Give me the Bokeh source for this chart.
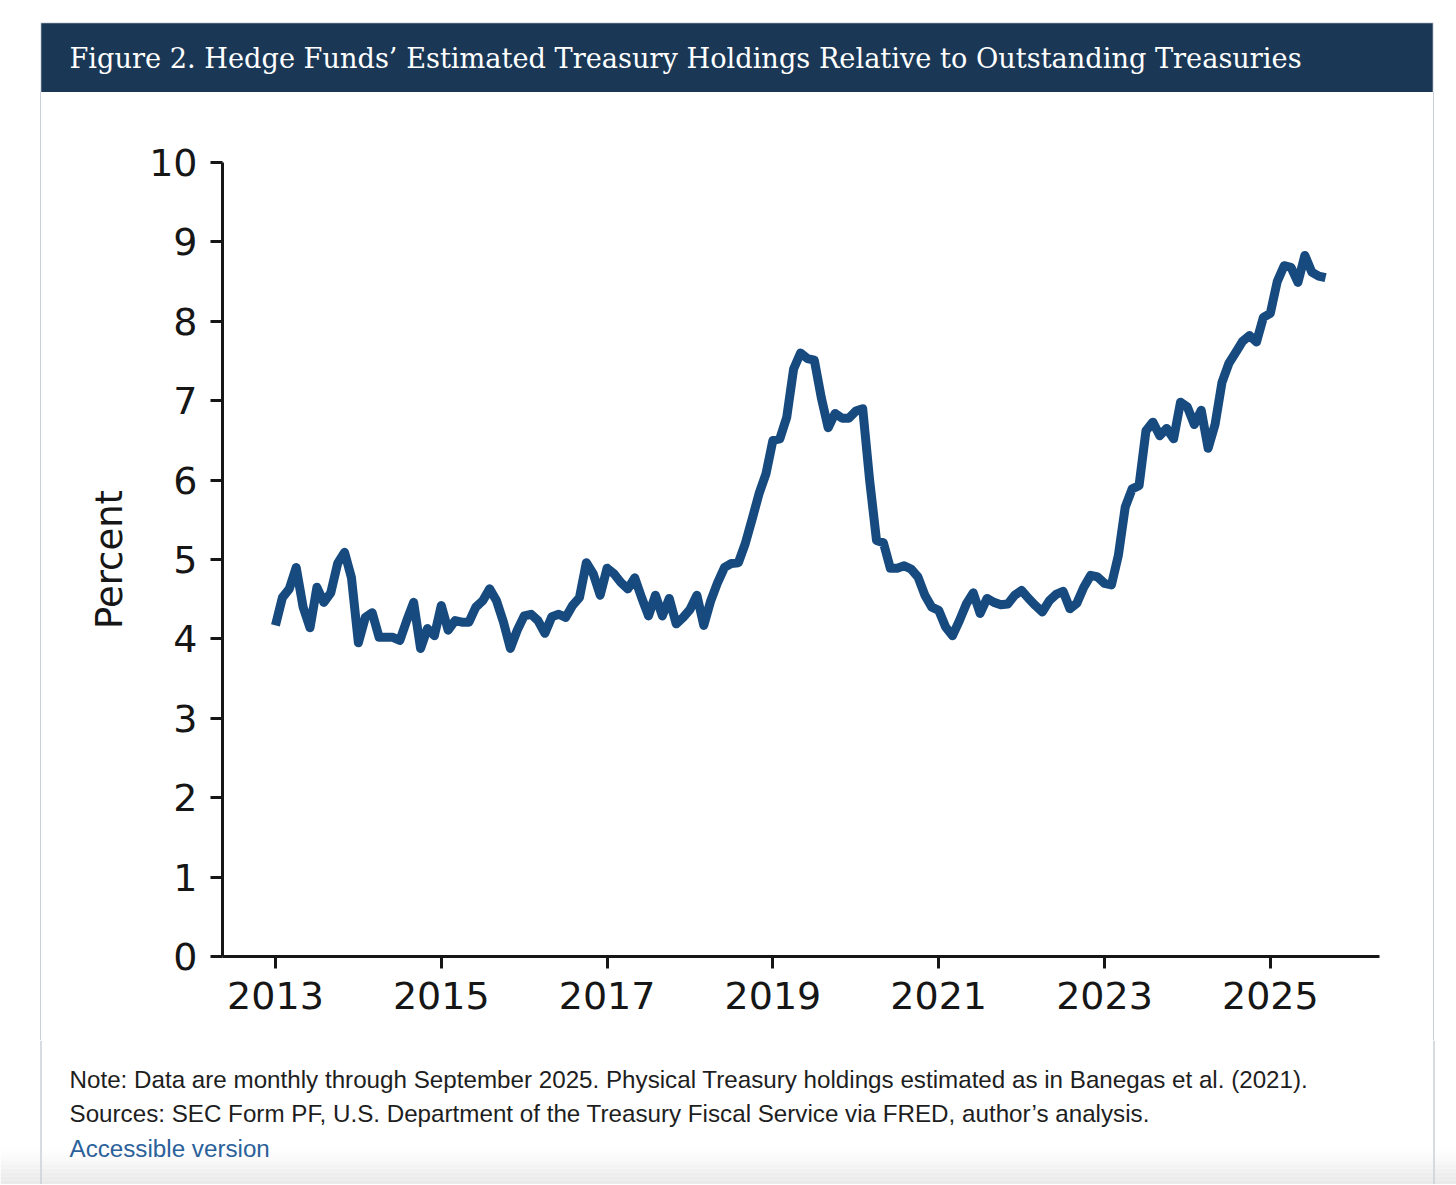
from bokeh.plotting import figure
from bokeh.layouts import column, row
from bokeh.models import Range1d, FixedTicker, Div
from bokeh.embed import file_html
from bokeh.resources import INLINE
from bokeh.core.properties import value

# ---------------- data (monthly, percent) ----------------
v2013 = [4.17, 4.52, 4.63, 4.90, 4.40, 4.14, 4.65, 4.46, 4.58, 4.95, 5.09, 4.77]
v2014 = [3.95, 4.27, 4.33, 4.02, 4.02, 4.02, 3.98, 4.23, 4.46, 3.88, 4.13, 4.04]
v2015 = [4.42, 4.11, 4.23, 4.21, 4.21, 4.40, 4.48, 4.63, 4.48, 4.21, 3.88, 4.11]
v2016 = [4.29, 4.31, 4.23, 4.07, 4.28, 4.31, 4.27, 4.42, 4.52, 4.96, 4.82, 4.55]
v2017 = [4.89, 4.82, 4.71, 4.63, 4.77, 4.52, 4.29, 4.55, 4.29, 4.51, 4.19, 4.27]
v2018 = [4.37, 4.55, 4.17, 4.48, 4.71, 4.90, 4.95, 4.96, 5.20, 5.51, 5.83, 6.08]
v2019 = [6.50, 6.52, 6.79, 7.40, 7.60, 7.53, 7.51, 7.04, 6.66, 6.84, 6.78, 6.78]
v2020 = [6.87, 6.90, 6.00, 5.24, 5.21, 4.89, 4.89, 4.92, 4.88, 4.78, 4.55, 4.40]
v2021 = [4.36, 4.15, 4.04, 4.23, 4.44, 4.58, 4.32, 4.51, 4.46, 4.43, 4.44, 4.55]
v2022 = [4.61, 4.51, 4.42, 4.34, 4.48, 4.56, 4.60, 4.38, 4.45, 4.65, 4.80, 4.78]
v2023 = [4.70, 4.68, 5.05, 5.66, 5.89, 5.93, 6.62, 6.73, 6.56, 6.65, 6.52, 6.98]
v2024 = [6.92, 6.70, 6.88, 6.40, 6.70, 7.23, 7.47, 7.61, 7.75, 7.82, 7.74, 8.05]
v2025 = [8.10, 8.50, 8.70, 8.68, 8.49, 8.83, 8.62, 8.57, 8.55]

years = [2013, 2014, 2015, 2016, 2017, 2018, 2019, 2020, 2021, 2022, 2023, 2024, 2025]
yearly = [v2013, v2014, v2015, v2016, v2017, v2018, v2019, v2020, v2021, v2022, v2023, v2024, v2025]

x_ticks = [2013, 2015, 2017, 2019, 2021, 2023, 2025]
y_ticks = [0, 1, 2, 3, 4, 5, 6, 7, 8, 9, 10]

title_text = "Figure 2. Hedge Funds\u2019 Estimated Treasury Holdings Relative to Outstanding Treasuries"
note_text = "Note: Data are monthly through September 2025. Physical Treasury holdings estimated as in Banegas et al. (2021)."
source_text = "Sources: SEC Form PF, U.S. Department of the Treasury Fiscal Service via FRED, author\u2019s analysis."
link_text = "Accessible version"

dates, pct = [], []
for yr, vals in zip(years, yearly):
    for m, v in enumerate(vals):
        dates.append(yr + m / 12.0)
        pct.append(v)

# ---------------- styles ----------------
NAVY = "#1a3856"
LINE = "#174a7f"
BORDER = "#c9d0d8"
INK = "#161616"
W = 1456


def blank(width, height, x0, x1, y_top, y_bot):
    f = figure(width=width, height=height, x_range=Range1d(x0, x1),
               y_range=Range1d(y_bot, y_top), x_axis_type=None, y_axis_type=None,
               toolbar_location=None, output_backend="svg", min_border=0)
    f.outline_line_color = None
    f.grid.visible = False
    f.background_fill_color = "white"
    f.border_fill_color = "white"
    return f


# header (page coords: x 0..1456, y 0..92)
head = blank(W, 92, 0, W, 0, 92)
head.quad(left=40, right=1433, top=22, bottom=92, fill_color=BORDER, line_color=None)
head.quad(left=40.8, right=1432.2, top=22.8, bottom=92, fill_color=NAVY, line_color=None)
head.text(x=[69], y=[58], text=[title_text], text_color="white",
          text_font=value("DejaVu Serif"), text_font_size="27.2px",
          text_baseline="alphabetic", text_align="left")

# main chart (page x 41..1433, y 92..1040)
p = figure(width=1392, height=948, x_range=Range1d(2012.361, 2026.317), y_range=Range1d(0, 10),
           toolbar_location=None, output_backend="svg",
           min_border_left=181, min_border_right=54, min_border_top=70, min_border_bottom=84)
p.outline_line_color = None
p.grid.visible = False
p.background_fill_color = "white"
p.border_fill_color = "white"

p.line(dates, pct, line_color=LINE, line_width=9, line_join="round")

for ax in (p.xaxis[0], p.yaxis[0]):
    ax.axis_line_color = INK
    ax.axis_line_width = 3
    ax.major_tick_line_color = INK
    ax.major_tick_line_width = 3
    ax.major_tick_out = 12
    ax.major_tick_in = 0
    ax.minor_tick_line_color = None
    ax.major_label_text_font = "DejaVu Sans"
    ax.major_label_text_font_size = "38px"
    ax.major_label_text_color = INK

p.xaxis.ticker = FixedTicker(ticks=x_ticks)
p.yaxis.ticker = FixedTicker(ticks=y_ticks)
p.xaxis.major_label_standoff = 13
p.yaxis.major_label_standoff = 13
p.yaxis.axis_label = "Percent"
p.yaxis.axis_label_text_font = "DejaVu Sans"
p.yaxis.axis_label_text_font_size = "37px"
p.yaxis.axis_label_text_font_style = "normal"
p.yaxis.axis_label_text_color = INK
p.yaxis.axis_label_standoff = 15

left = Div(text="", width=41, height=948, margin=(0, 0, 0, 0),
           styles={"box-sizing": "border-box", "border-right": "1px solid " + BORDER,
                   "background": "white"})
right = Div(text="", width=23, height=948, margin=(0, 0, 0, 0),
            styles={"box-sizing": "border-box", "border-left": "1px solid " + BORDER,
                    "background": "white"})

# footer (page y 1040..1184)
foot = blank(W, 144, 0, W, 1040, 1184)
band_top = [1148, 1152, 1156, 1160, 1164, 1168, 1172, 1176, 1180]
band_col = ["#fefefe", "#fcfcfc", "#fafafa", "#f7f7f7", "#f4f4f4", "#f1f1f1", "#eeeeee",
            "#ececec", "#eaeaea"]
foot.quad(left=0, right=W, top=band_top, bottom=[b + 4 for b in band_top],
          fill_color=band_col, line_color=None)
foot.segment(x0=[40.5, 1433.5], y0=[1040, 1040], x1=[40.5, 1433.5], y1=[1184, 1184],
             line_color=BORDER, line_width=1.5)
foot.text(x=[69, 69], y=[1078.5, 1113], text=[note_text, source_text], text_color="#1e1e1e",
          text_font=value("Liberation Sans"), text_font_size="24.2px",
          text_baseline="alphabetic", text_align="left")
foot.text(x=[69], y=[1147.5], text=[link_text], text_color="#2b619a",
          text_font=value("Liberation Sans"), text_font_size="24.2px",
          text_baseline="alphabetic", text_align="left")

layout = column(head, row(left, p, right), foot)

open("out.html", "w").write(file_html(layout, INLINE))
